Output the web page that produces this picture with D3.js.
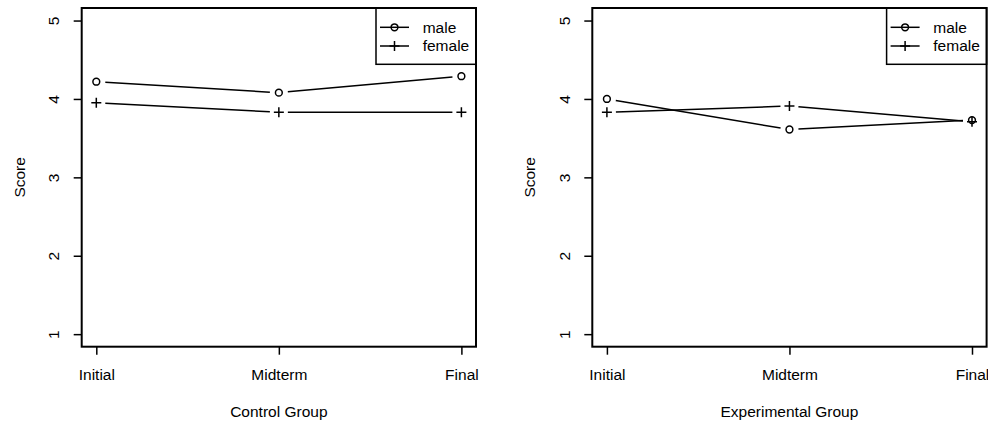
<!DOCTYPE html>
<html>
<head>
<meta charset="utf-8">
<script src="https://cdn.jsdelivr.net/npm/d3@7"></script>
<style>
  body { margin: 0; background: #fff; }
  svg text { font-family: "Liberation Sans", Arial, sans-serif; font-size: 15.5px; fill: #000; }
</style>
</head>
<body>
<div id="chart-area"></div>
<script>
// data
var phases = ["Initial", "Midterm", "Final"];
var yTicks = [1, 2, 3, 4, 5];
var groups = ["Control Group", "Experimental Group"];
var controlMale = [4.22, 4.08, 4.29];
var controlFemale = [3.95, 3.83, 3.83];
var expMale = [4.00, 3.61, 3.73];
var expFemale = [3.83, 3.91, 3.71];
var legendLabels = ["male", "female"];

var width = 394.3, height = 338.7;
var panelLeft = [81.7, 592.3], panelTop = 8;
var lw = 1.5;

var svg = d3.select("#chart-area")
  .append("svg")
    .attr("width", 988)
    .attr("height", 425);

// R style ranges: 4% padding
var x = d3.scaleLinear().domain([-0.08, 2.08]).range([0, width]);
var y = d3.scaleLinear().domain([0.84, 5.16]).range([height, 0]);

function drawPanel(i, male, female) {
  var g = svg.append("g")
    .attr("transform", "translate(" + panelLeft[i] + "," + panelTop + ")");

  // axes
  var xAxis = d3.axisBottom(x).tickValues([0, 1, 2]).tickFormat(d => phases[d]).tickSize(8);
  var yAxis = d3.axisLeft(y).tickValues(yTicks).tickFormat(d3.format("d")).tickSize(8);

  var xa = g.append("g")
    .attr("transform", "translate(0," + height + ")")
    .call(xAxis);
  xa.select(".domain").remove();
  xa.selectAll("line").attr("stroke", "#000").attr("stroke-width", lw);
  xa.selectAll("text").attr("y", 22).attr("dy", "0.71em").style("font-size", "15.5px");

  var ya = g.append("g").call(yAxis);
  ya.select(".domain").remove();
  ya.selectAll("line").attr("stroke", "#000").attr("stroke-width", lw);
  ya.selectAll("text")
    .attr("transform", "rotate(-90)")
    .attr("x", 0).attr("y", -22.5).attr("dy", 0)
    .attr("text-anchor", "middle")
    .style("font-size", "15.5px");

  // labels
  g.append("text")
    .attr("x", width / 2).attr("y", height + 70)
    .attr("text-anchor", "middle")
    .text(groups[i]);
  g.append("text")
    .attr("transform", "translate(-57," + (height / 2) + ") rotate(-90)")
    .attr("text-anchor", "middle")
    .text("Score");

  // lines type "b": segments with gaps around points
  var gap = 9;
  function segs(vals) {
    var out = [];
    for (var k = 0; k < vals.length - 1; k++) {
      var x1 = x(k), y1 = y(vals[k]), x2 = x(k + 1), y2 = y(vals[k + 1]);
      var dx = x2 - x1, dy = y2 - y1, len = Math.sqrt(dx * dx + dy * dy);
      if (len <= 2 * gap) continue;
      var ux = dx / len, uy = dy / len;
      out.push([x1 + ux * gap, y1 + uy * gap, x2 - ux * gap, y2 - uy * gap]);
    }
    return out;
  }
  [male, female].forEach(function (vals) {
    g.selectAll(null)
      .data(segs(vals))
      .enter().append("line")
      .attr("x1", d => d[0]).attr("y1", d => d[1])
      .attr("x2", d => d[2]).attr("y2", d => d[3])
      .attr("stroke", "#000").attr("stroke-width", lw);
  });

  g.selectAll(null)
    .data(male)
    .enter().append("circle")
    .attr("cx", (d, k) => x(k)).attr("cy", d => y(d))
    .attr("r", 3.4)
    .attr("fill", "none").attr("stroke", "#000").attr("stroke-width", lw);

  g.selectAll(null)
    .data(female)
    .enter().append("path")
    .attr("d", (d, k) => "M" + (x(k) - 5) + "," + y(d) + "h10M" + x(k) + "," + (y(d) - 5) + "v10")
    .attr("stroke", "#000").attr("stroke-width", lw);

  // legend
  var lg = g.append("g").attr("transform", "translate(" + (width - 100) + ",0)");
  lg.append("rect")
    .attr("width", 100).attr("height", 56.3)
    .attr("fill", "#fff").attr("stroke", "#000").attr("stroke-width", lw);
  legendLabels.forEach(function (lab, j) {
    var ly = 19.3 + j * 18.7;
    lg.append("line")
      .attr("x1", 4).attr("x2", 33).attr("y1", ly).attr("y2", ly)
      .attr("stroke", "#000").attr("stroke-width", lw);
    if (j === 0) {
      lg.append("circle").attr("cx", 18.5).attr("cy", ly).attr("r", 3.4)
        .attr("fill", "none").attr("stroke", "#000").attr("stroke-width", lw);
    } else {
      lg.append("path").attr("d", "M13.5," + ly + "h10M18.5," + (ly - 5) + "v10")
        .attr("stroke", "#000").attr("stroke-width", lw);
    }
    lg.append("text").attr("x", 46.7).attr("y", ly).attr("dy", "0.35em").text(lab);
  });

  // box
  g.append("rect")
    .attr("width", width).attr("height", height)
    .attr("fill", "none").attr("stroke", "#000").attr("stroke-width", 2);
}

drawPanel(0, controlMale, controlFemale);
drawPanel(1, expMale, expFemale);
</script>
</body>
</html>
